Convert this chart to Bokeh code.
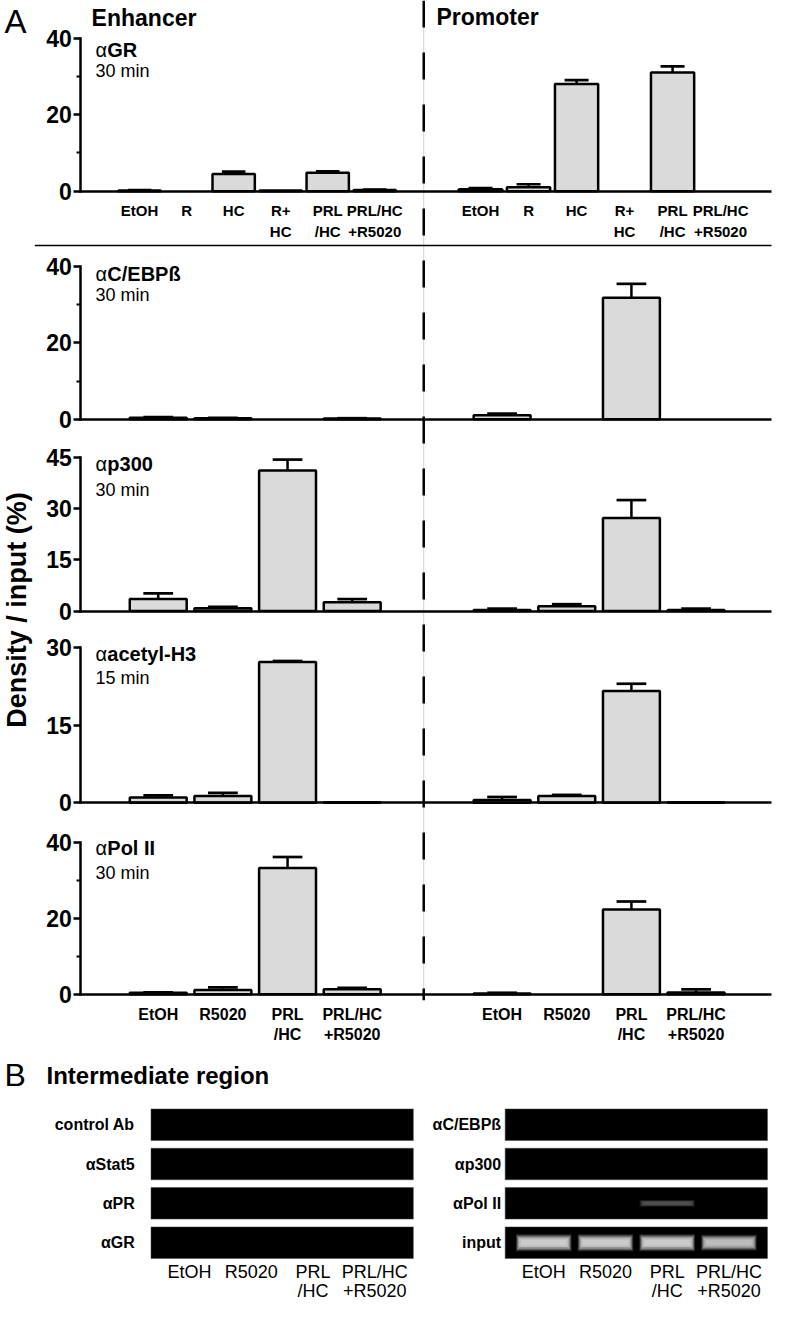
from math import pi
from bokeh.plotting import figure
from bokeh.models import Range1d, LinearAxis, FixedTicker
from bokeh.core.properties import value
from bokeh.embed import file_html
from bokeh.resources import INLINE

# ---------------- data ----------------
cats6 = ["EtOH", "R", "HC", "R+\nHC", "PRL\n/HC", "PRL/HC\n+R5020"]
cats4 = ["EtOH", "R5020", "PRL\n/HC", "PRL/HC\n+R5020"]

gr_enh = [0.2, 0.0, 4.5, 0.2, 4.8, 0.3]
gr_enh_err = [0.1, 0.0, 0.6, 0.0, 0.4, 0.1]
gr_pro = [0.5, 1.0, 28.0, 0.0, 31.0, 0.0]
gr_pro_err = [0.3, 0.8, 1.0, 0.0, 1.6, 0.0]

cebp_enh = [0.4, 0.3, 0.0, 0.2]
cebp_enh_err = [0.2, 0.1, 0.0, 0.1]
cebp_pro = [1.1, 0.0, 31.8, 0.0]
cebp_pro_err = [0.4, 0.0, 3.6, 0.0]

p300_enh = [3.5, 0.8, 41.3, 2.6]
p300_enh_err = [1.7, 0.4, 3.2, 0.9]
p300_pro = [0.3, 1.4, 27.3, 0.3]
p300_pro_err = [0.4, 0.6, 5.3, 0.4]

h3_enh = [1.0, 1.3, 27.2, 0.1]
h3_enh_err = [0.4, 0.6, 0.2, 0.0]
h3_pro = [0.5, 1.3, 21.6, 0.1]
h3_pro_err = [0.6, 0.2, 1.4, 0.0]

pol_enh = [0.4, 1.1, 33.2, 1.3]
pol_enh_err = [0.1, 0.7, 2.9, 0.4]
pol_pro = [0.2, 0.0, 22.3, 0.5]
pol_pro_err = [0.2, 0.0, 2.1, 0.8]

gel_lanes = ["EtOH", "R5020", "PRL\n/HC", "PRL/HC\n+R5020"]
gel_left_abs = ["control Ab", "\u03b1Stat5", "\u03b1PR", "\u03b1GR"]
gel_left_signal = [[0, 0, 0, 0], [0, 0, 0, 0], [0, 0, 0, 0], [0, 0, 0, 0]]
gel_right_abs = ["\u03b1C/EBP\u00df", "\u03b1p300", "\u03b1Pol II", "input"]
gel_right_signal = [[0, 0, 0, 0], [0, 0, 0, 0], [0, 0, 0.32, 0], [0.8, 0.8, 0.8, 0.74]]

# ---------------- layout ----------------
FONT = "Liberation Sans"
FV = value(FONT)
REF_W, REF_H = 788, 1320
W, H = 772, 1304
AX_X = 82
BASE_END = 787
BAR_FILL = "#dadada"

p = figure(width=W, height=H, x_range=Range1d(0, REF_W), y_range=Range1d(REF_H, 0),
           output_backend="svg", toolbar_location=None, min_border=0,
           x_axis_location=None, y_axis_location=None, outline_line_color=None,
           background_fill_color="white", border_fill_color="white")
p.grid.visible = False


def xr(c0, s):
    return Range1d(start=-c0 / s, end=(REF_W - c0) / s)


def yr(base, top_px, top_val):
    k = (base - top_px) / top_val
    return Range1d(start=(base - REF_H) / k, end=base / k)


def yrows(c0, s):
    return Range1d(start=(REF_H - c0) / s, end=-c0 / s)


rows = [
    dict(key="gr", name="GR", time="30 min", base=193, top=38, ymax=40, ticks=[0, 20, 40], minor=[10, 30],
         xe="enh6", xp="pro6", enh=gr_enh, enh_err=gr_enh_err, pro=gr_pro, pro_err=gr_pro_err, ly=50, ty=71),
    dict(key="cebp", name="C/EBP\u00df", time="30 min", base=424, top=269, ymax=40, ticks=[0, 20, 40], minor=[10, 30],
         xe="enh4", xp="pro4", enh=cebp_enh, enh_err=cebp_enh_err, pro=cebp_pro, pro_err=cebp_pro_err, ly=277, ty=298),
    dict(key="p300", name="p300", time="30 min", base=618, top=463, ymax=45, ticks=[0, 15, 30, 45], minor=[],
         xe="enh4", xp="pro4", enh=p300_enh, enh_err=p300_enh_err, pro=p300_pro, pro_err=p300_pro_err, ly=469, ty=495),
    dict(key="h3", name="acetyl-H3", time="15 min", base=812, top=655, ymax=30, ticks=[0, 15, 30], minor=[],
         xe="enh4", xp="pro4", enh=h3_enh, enh_err=h3_enh_err, pro=h3_pro, pro_err=h3_pro_err, ly=662, ty=686),
    dict(key="pol", name="Pol II", time="30 min", base=1006, top=852, ymax=40, ticks=[0, 20, 40], minor=[10, 30],
         xe="enh4", xp="pro4", enh=pol_enh, enh_err=pol_enh_err, pro=pol_pro, pro_err=pol_pro_err, ly=858, ty=883),
]

p.extra_x_ranges = {
    "enh6": xr(142, 48), "pro6": xr(490, 49),
    "enh4": xr(161, 66), "pro4": xr(512, 66),
    "gelL": xr(193, 63), "gelR": xr(554.5, 63),
}
yranges = {r["key"]: yr(r["base"], r["top"], r["ymax"]) for r in rows}
yranges["gelrows"] = yrows(1138, 39.8)
p.extra_y_ranges = yranges

# divider (thin grey guide + dashed black)
p.segment(x0=[432], y0=[0], x1=[432], y1=[1012], line_color="#cfcfcf", line_width=1)
p.segment(x0=[432], y0=[0], x1=[432], y1=[1012], line_color="black", line_width=2.5, line_dash="27 25")
# separator under the first panel
p.segment(x0=[35], y0=[248], x1=[787], y1=[248], line_color="black", line_width=1.5)


def draw_bars(xname, yname, vals, errs, width, capw):
    idx = list(range(len(vals)))
    ei = [i for i in idx if errs[i] > 0]
    tops = [vals[i] + errs[i] for i in ei]
    p.segment(x0=ei, y0=[vals[i] for i in ei], x1=ei, y1=tops, x_range_name=xname, y_range_name=yname,
              line_color="black", line_width=2.5)
    p.segment(x0=[i - capw / 2 for i in ei], y0=tops, x1=[i + capw / 2 for i in ei], y1=tops,
              x_range_name=xname, y_range_name=yname, line_color="black", line_width=2.7)
    bi = [i for i in idx if vals[i] > 0]
    p.vbar(x=bi, top=[vals[i] for i in bi], bottom=0, width=width, x_range_name=xname, y_range_name=yname,
           fill_color=BAR_FILL, line_color="black", line_width=2.5)


for r in rows:
    six = r["xe"] == "enh6"
    bw, cw = (0.9, 0.5) if six else (0.88, 0.46)
    draw_bars(r["xe"], r["key"], r["enh"], r["enh_err"], bw, cw)
    draw_bars(r["xp"], r["key"], r["pro"], r["pro_err"], bw, cw)

    ax = LinearAxis(y_range_name=r["key"], fixed_location=AX_X, bounds=(0, r["ymax"]),
                    ticker=FixedTicker(ticks=r["ticks"], minor_ticks=r["minor"]),
                    axis_line_width=2.5, axis_line_cap="square",
                    major_tick_line_width=2.5, major_tick_out=7, major_tick_in=0,
                    minor_tick_line_width=2, minor_tick_out=4, minor_tick_in=0,
                    major_label_text_font=FONT, major_label_text_font_style="bold",
                    major_label_text_font_size="23px", major_label_text_color="black",
                    major_label_standoff=2)
    p.add_layout(ax, "left")
    bx = LinearAxis(y_range_name=r["key"], fixed_location=0, bounds=(AX_X, BASE_END),
                    ticker=FixedTicker(ticks=[], minor_ticks=[]),
                    axis_line_width=2.5, major_tick_out=0, minor_tick_out=0,
                    major_label_text_font_size="0px")
    p.add_layout(bx, "below")

    # panel labels
    p.text(x=[97], y=[r["ly"]], text=["\u03b1"], text_font=FV, text_font_size="20px",
           text_align="left", text_baseline="middle", text_color="black")
    p.text(x=[109], y=[r["ly"]], text=[r["name"]], text_font=FV, text_font_size="20px",
           text_font_style="bold", text_align="left", text_baseline="middle", text_color="black")
    p.text(x=[97], y=[r["ty"]], text=[r["time"]], text_font=FV, text_font_size="18px",
           text_align="left", text_baseline="middle", text_color="black")


def cat_labels(cats, xname, y1, y2, size, style, yname=None):
    idx = list(range(len(cats)))
    l1 = [c.split("\n")[0] for c in cats]
    l2 = [c.split("\n")[1] if "\n" in c else "" for c in cats]
    kw = dict(x_range_name=xname, text_font=FV, text_font_size=size, text_font_style=style,
              text_align="center", text_baseline="middle", text_color="black")
    if yname:
        kw["y_range_name"] = yname
    p.text(x=idx, y=[y1] * len(cats), text=l1, **kw)
    p.text(x=idx, y=[y2] * len(cats), text=l2, **kw)


cat_labels(cats6, "enh6", 213, 234, "15px", "bold")
cat_labels(cats6, "pro6", 213, 234, "15px", "bold")
cat_labels(cats4, "enh4", 1026, 1047, "16px", "bold")
cat_labels(cats4, "pro4", 1026, 1047, "16px", "bold")

# headings
p.text(x=[4], y=[21], text=["A"], text_font=FV, text_font_size="33px", text_align="left",
       text_baseline="middle", text_color="black")
p.text(x=[93], y=[18], text=["Enhancer"], text_font=FV, text_font_size="23px", text_font_style="bold",
       text_align="left", text_baseline="middle", text_color="black")
p.text(x=[445], y=[17], text=["Promoter"], text_font=FV, text_font_size="23px", text_font_style="bold",
       text_align="left", text_baseline="middle", text_color="black")
p.text(x=[17], y=[617], text=["Density / input (%)"], angle=pi / 2, text_font=FV, text_font_size="27px",
       text_font_style="bold", text_align="center", text_baseline="middle", text_color="black")

p.text(x=[4], y=[1088], text=["B"], text_font=FV, text_font_size="32px", text_align="left",
       text_baseline="middle", text_color="black")
p.text(x=[47], y=[1088], text=["Intermediate region"], text_font=FV, text_font_size="24px",
       text_font_style="bold", text_align="left", text_baseline="middle", text_color="black")


# gels
def gel(xname, abs_labels, signal, label_x):
    n_rows = len(abs_labels)
    n_l = len(signal[0])
    ridx = list(range(n_rows))
    p.rect(x=[(n_l - 1) / 2] * n_rows, y=ridx, width=n_l + 0.25, height=0.8,
           x_range_name=xname, y_range_name="gelrows", fill_color="black", line_color="#444444", line_width=0.5)
    bx_, by_, bh_, bc_ = [], [], [], []
    for ri in ridx:
        for li in range(n_l):
            s = signal[ri][li]
            if s > 0:
                bx_.append(li)
                by_.append(ri)
                bh_.append(0.4 * s)
                g = int(255 * s)
                bc_.append("#%02x%02x%02x" % (g, g, g))
    if bx_:
        for wf, hf, a in [(0.9, 1.35, 0.2), (0.87, 1.15, 0.35), (0.84, 0.95, 0.5), (0.8, 0.7, 0.7), (0.74, 0.45, 0.9)]:
            p.rect(x=bx_, y=by_, width=wf, height=[h * hf for h in bh_], x_range_name=xname,
                   y_range_name="gelrows", fill_color=bc_, fill_alpha=a, line_color=None)
    p.text(x=[label_x] * n_rows, y=ridx, text=abs_labels, y_range_name="gelrows", text_font=FV,
           text_font_size="16px", text_font_style="bold", text_align="right", text_baseline="middle",
           text_color="black")
    cat_labels(gel_lanes, xname, 1287, 1306, "18px", "normal")


gel("gelL", gel_left_abs, gel_left_signal, 137)
gel("gelR", gel_right_abs, gel_right_signal, 511)

open("out.html", "w").write(file_html(p, INLINE))
